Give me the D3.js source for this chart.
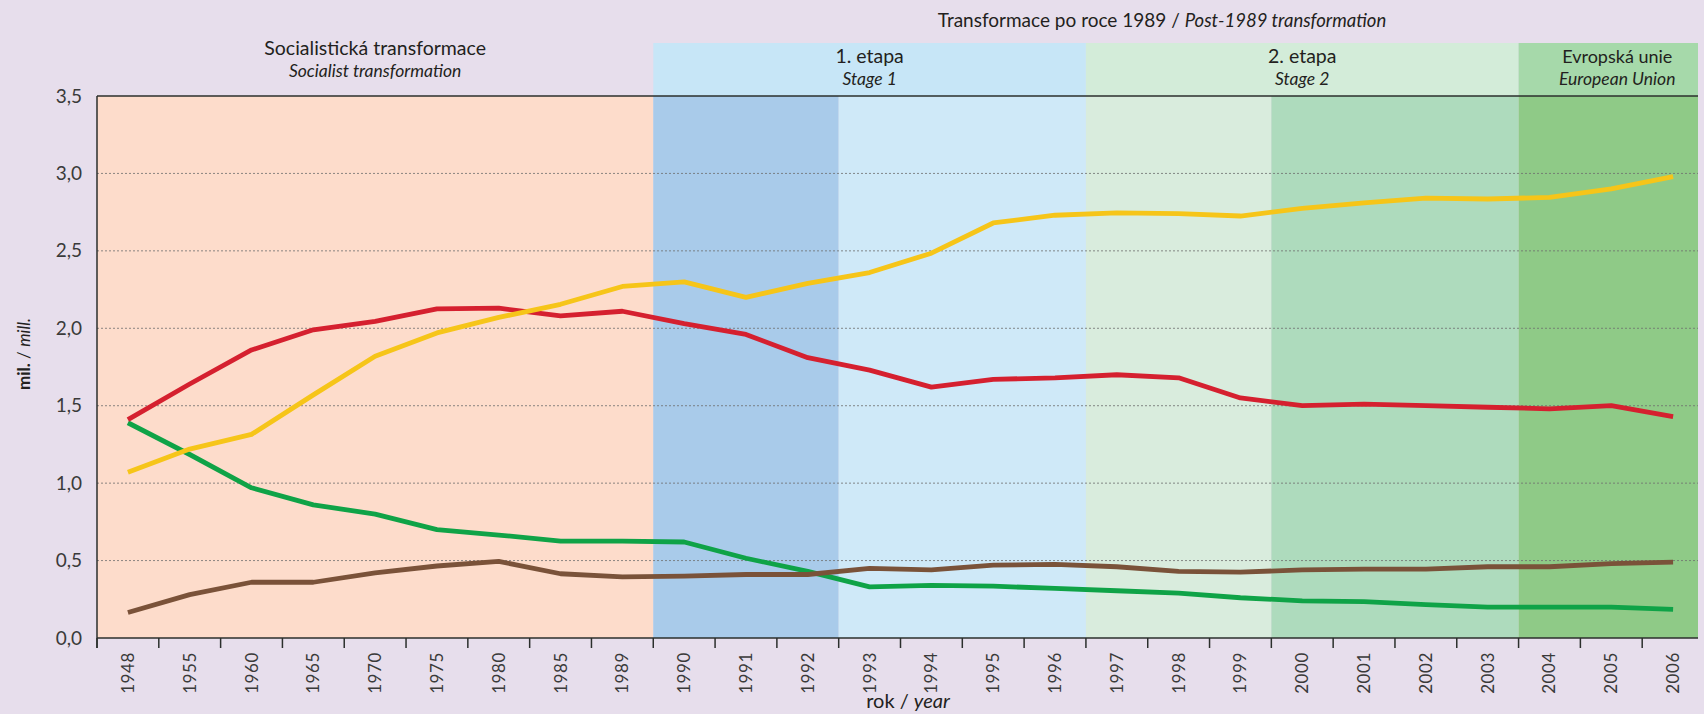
<!DOCTYPE html>
<html>
<head>
<meta charset="utf-8">
<script src="https://cdn.jsdelivr.net/npm/d3@7"></script>
<style>
  body { margin: 0; background: #e7deec; }
  svg { display: block; font-family: Lato, "Open Sans", sans-serif; }
</style>
</head>
<body>
<div id="chart-area"></div>
<script>
// data
const years = ["1948", "1955", "1960", "1965", "1970", "1975", "1980", "1985", "1989",
    "1990", "1991", "1992", "1993", "1994", "1995", "1996", "1997", "1998", "1999",
    "2000", "2001", "2002", "2003", "2004", "2005", "2006"];

const redValues = [1.41, 1.64, 1.86, 1.99, 2.045, 2.125, 2.13, 2.08, 2.11, 2.03, 1.96, 1.81, 1.73,
    1.62, 1.67, 1.68, 1.70, 1.68, 1.55, 1.50, 1.51, 1.50, 1.49, 1.48, 1.50, 1.43];
const yellowValues = [1.07, 1.22, 1.315, 1.57, 1.82, 1.97, 2.07, 2.155, 2.27, 2.30, 2.20, 2.29, 2.36,
    2.485, 2.68, 2.73, 2.745, 2.74, 2.725, 2.775, 2.81, 2.84, 2.835, 2.845, 2.90, 2.98];
const greenValues = [1.39, 1.185, 0.97, 0.86, 0.80, 0.70, 0.665, 0.625, 0.625, 0.62, 0.515, 0.43, 0.33,
    0.34, 0.335, 0.32, 0.305, 0.29, 0.26, 0.24, 0.235, 0.215, 0.20, 0.20, 0.20, 0.185];
const brownValues = [0.165, 0.28, 0.36, 0.36, 0.42, 0.465, 0.495, 0.415, 0.395, 0.40, 0.41, 0.41, 0.45,
    0.44, 0.47, 0.475, 0.46, 0.43, 0.425, 0.44, 0.445, 0.445, 0.46, 0.46, 0.48, 0.49];

const yTicks = [0, 0.5, 1, 1.5, 2, 2.5, 3, 3.5];

// background periods inside the plot
const periodFrom = ["1948", "1990", "1993", "1997", "2000", "2004"];
const periodTo = ["1989", "1992", "1996", "1999", "2003", "2006"];

// header bands above the plot
const headerFrom = ["1948", "1990", "1997", "2004"];
const headerTo = ["1989", "1996", "2003", "2006"];
const headerLabels = ["Socialistická transformace", "1. etapa", "2. etapa", "Evropská unie"];
const headerSubLabels = ["Socialist transformation", "Stage 1", "Stage 2", "European Union"];

const periodColors = ["#fddccb", "#a9cbea", "#cfe9f8", "#d9ecdd", "#aedbbd", "#8fca87"];
const headerColors = [null, "#c7e6f7", "#d3ecd9", "#a6d9aa"];
const lineColors = { green: "#0fa347", red: "#d5202f", yellow: "#f6c519", brown: "#7a5239" };

const W = 1704, H = 714;
const plot = { left: 97, right: 1704, clipRight: 1698, top: 96, bottom: 638, headerTop: 43 };
const ink = "#231f20";

const svg = d3.select("#chart-area")
    .append("svg")
    .attr("width", W)
    .attr("height", H);

const x = d3.scaleBand().domain(years).range([plot.left, plot.right]).padding(0);
const y = d3.scaleLinear().domain([0, 3.5]).range([plot.bottom, plot.top]);

const spanX = (a, b) => [x(a), x(b) + x.bandwidth()];

svg.append("defs").append("clipPath").attr("id", "clip")
    .append("rect")
    .attr("x", plot.left).attr("y", plot.headerTop)
    .attr("width", plot.clipRight - plot.left)
    .attr("height", plot.bottom - plot.headerTop);

const g = svg.append("g").attr("clip-path", "url(#clip)");

// header bands
headerFrom.forEach((from, i) => {
    if (!headerColors[i]) return;
    const [x0, x1] = spanX(from, headerTo[i]);
    g.append("rect")
        .attr("x", x0).attr("y", plot.headerTop)
        .attr("width", x1 - x0).attr("height", plot.top - plot.headerTop)
        .attr("fill", headerColors[i]);
});

// plot backgrounds
periodFrom.forEach((from, i) => {
    const [x0, x1] = spanX(from, periodTo[i]);
    g.append("rect")
        .attr("x", x0).attr("y", plot.top)
        .attr("width", x1 - x0).attr("height", plot.bottom - plot.top)
        .attr("fill", periodColors[i]);
});

// dotted gridlines
g.selectAll(".grid")
    .data(yTicks.filter(d => d > 0 && d < 3.5))
    .enter().append("line")
    .attr("x1", plot.left).attr("x2", plot.right)
    .attr("y1", d => y(d)).attr("y2", d => y(d))
    .attr("stroke", "#6f6f6f")
    .attr("stroke-width", 1)
    .attr("stroke-dasharray", "2,2")
    .attr("opacity", 0.8);

// top frame line
g.append("line")
    .attr("x1", plot.left).attr("x2", plot.right)
    .attr("y1", y(3.5)).attr("y2", y(3.5))
    .attr("stroke", "#2b2f2c").attr("stroke-width", 1.5);

// lines
const line = d3.line()
    .x((d, i) => x(years[i]) + x.bandwidth() / 2)
    .y(d => y(d));

[["green", greenValues], ["red", redValues], ["yellow", yellowValues], ["brown", brownValues]]
    .forEach(([name, vals]) => {
        g.append("path")
            .attr("d", line(vals))
            .attr("fill", "none")
            .attr("stroke", lineColors[name])
            .attr("stroke-width", 4.8)
            .attr("stroke-linejoin", "round");
    });

// x axis: tick marks at band edges, rotated year labels
svg.selectAll(".xtick")
    .data(years)
    .enter().append("line")
    .attr("x1", d => x(d)).attr("x2", d => x(d))
    .attr("y1", plot.bottom).attr("y2", plot.bottom + 10)
    .attr("stroke", "#2b2f2c").attr("stroke-width", 1.5);

svg.selectAll(".xlabel")
    .data(years)
    .enter().append("text")
    .attr("transform", d => `translate(${x(d) + x.bandwidth() / 2 + 6},${plot.bottom + 14}) rotate(-90)`)
    .attr("text-anchor", "end")
    .attr("font-size", "17px")
    .attr("letter-spacing", "0.6px")
    .attr("fill", "#3a3a3a")
    .text(d => d);

svg.append("line")
    .attr("x1", plot.left).attr("x2", plot.clipRight)
    .attr("y1", plot.bottom).attr("y2", plot.bottom)
    .attr("stroke", "#2b2f2c").attr("stroke-width", 1.5);
svg.append("line")
    .attr("x1", plot.left).attr("x2", plot.left)
    .attr("y1", plot.top).attr("y2", plot.bottom + 10)
    .attr("stroke", "#2b2f2c").attr("stroke-width", 1.5);

const yAxisCall = d3.axisLeft(y).tickValues(yTicks).tickSize(0)
    .tickFormat(d => d3.format(".1f")(d).replace(".", ","));
const yAxis = svg.append("g")
    .attr("transform", `translate(${plot.left - 12},0)`)
    .call(yAxisCall);
yAxis.select(".domain").remove();
yAxis.selectAll("text")
    .attr("font-family", "Lato, sans-serif")
    .attr("font-size", "19px")
    .attr("fill", "#3a3a3a");

// text helper
const label = (cx, cy, size, parts, italicSize) => {
    const t = svg.append("text")
        .attr("x", cx).attr("y", cy)
        .attr("text-anchor", "middle")
        .attr("font-size", size + "px")
        .attr("fill", ink);
    parts.forEach(p => {
        t.append("tspan")
            .attr("font-style", p.italic ? "italic" : "normal")
            .attr("font-size", (p.italic && italicSize ? italicSize : size) + "px")
            .text(p.text);
    });
    return t;
};

// header labels
headerFrom.forEach((from, i) => {
    const [x0, x1] = spanX(from, headerTo[i]);
    const cx = (x0 + x1) / 2 + (i === 3 ? 6 : 0);
    const yTop = i === 0 ? 55 : 63;
    const big = i === 3 ? 18 : 19.5;
    label(cx, yTop, big, [{ text: headerLabels[i] }]);
    label(cx, yTop + 21.5, 17.5, [{ text: headerSubLabels[i], italic: true }]);
});

label(1162, 27, 19, [{ text: "Transformace po roce 1989 / " }, { text: "Post-1989 transformation", italic: true }], 18.5);

// axis titles
svg.append("text")
    .attr("transform", "translate(30,354) rotate(-90)")
    .attr("text-anchor", "middle")
    .attr("font-size", "17px")
    .attr("fill", ink)
    .call(t => {
        t.append("tspan").attr("font-weight", "bold").text("mil.");
        t.append("tspan").text(" / ");
        t.append("tspan").attr("font-style", "italic").text("mill.");
    });

label(908, 708, 20, [{ text: "rok / " }, { text: "year", italic: true }]);
</script>
</body>
</html>
